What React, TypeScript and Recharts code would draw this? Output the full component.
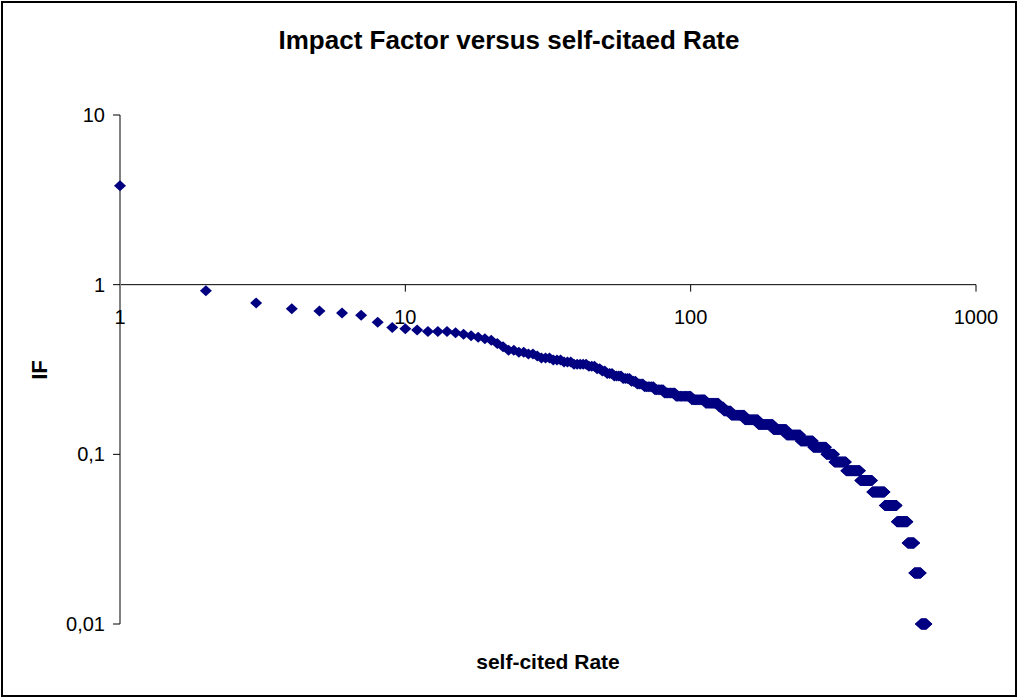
import { ScatterChart, Scatter, XAxis, YAxis, ReferenceLine, ReferenceDot } from "recharts";

// IF value of each plateau and the last rank that still has it (ranks sorted by IF)
const ifLevels = [
  3.83, 0.92, 0.78, 0.72, 0.7, 0.68, 0.66, 0.6, 0.56, 0.55, 0.54, 0.53, 0.52, 0.51, 0.5, 0.49, 0.48,
  0.47, 0.45, 0.43, 0.41, 0.4, 0.39, 0.38, 0.37, 0.36, 0.35, 0.34, 0.33, 0.32, 0.31, 0.3, 0.29, 0.28,
  0.27, 0.26, 0.25, 0.24, 0.23, 0.22, 0.21, 0.2, 0.19, 0.18, 0.17, 0.16, 0.15, 0.14, 0.13, 0.12, 0.11,
  0.1, 0.09, 0.08, 0.07, 0.06, 0.05, 0.04, 0.03, 0.02, 0.01,
];
const lastRank = [
  1, 2, 3, 4, 5, 6, 7, 8, 9, 10, 11, 14, 15, 16, 17, 18, 19,
  20, 21, 22, 24, 26, 28, 29, 32, 35, 38, 43, 46, 48, 50, 53, 57, 61,
  64, 68, 74, 80, 88, 100, 112, 125, 130, 138, 154, 172, 194, 216, 242, 268, 298,
  318, 350, 392, 432, 478, 527, 575, 607, 640, 670,
];

const xTicks = [1, 10, 100, 1000];
const xTickLabels = ["1", "10", "100", "1000"];
const yTicks = [0.01, 0.1, 1, 10];
const yTickLabels = ["0,01", "0,1", "1", "10"];

const points: { rank: number; impact: number }[] = [];
let rank = 1;
ifLevels.forEach((v, i) => {
  for (; rank <= lastRank[i]; rank++) points.push({ rank, impact: v });
});

const font = '"Liberation Sans", Arial, sans-serif';

const renderDiamond = (props: any) => {
  const { cx, cy } = props;
  return (
    <polygon
      points={`${cx},${cy - 5.5} ${cx + 6},${cy} ${cx},${cy + 5.5} ${cx - 6},${cy}`}
      fill="#000080"
    />
  );
};

// tick mark + label of the x axis, which crosses at IF = 1
const xTickShape = (text: string, withMark: boolean) => (props: any) => {
  const { cx, cy } = props;
  return (
    <g>
      {withMark && <line x1={cx} y1={cy} x2={cx} y2={cy + 7} stroke="#000" />}
      <text x={cx} y={cy + 39} textAnchor="middle" fontSize={20} fontFamily={font} fill="#000">
        {text}
      </text>
    </g>
  );
};

export default function App() {
  return (
    <div style={{ position: "absolute", left: 0, top: 0, width: 1018, height: 700, background: "#fff" }}>
      <div
        style={{
          position: "absolute",
          left: 1,
          top: 1,
          width: 1016,
          height: 696,
          border: "2px solid #000",
          boxSizing: "border-box",
        }}
      />
      <div
        style={{
          position: "absolute",
          left: 0,
          width: 1018,
          top: 27,
          textAlign: "center",
          fontFamily: font,
          fontWeight: "bold",
          fontSize: 26,
          lineHeight: "26px",
        }}
      >
        Impact Factor versus self-citaed Rate
      </div>
      <ScatterChart width={1018} height={700} margin={{ top: 115, right: 42, bottom: 76, left: 20 }}>
        <XAxis type="number" dataKey="rank" scale="log" domain={[1, 1000]} ticks={xTicks} hide />
        <YAxis
          type="number"
          dataKey="impact"
          scale="log"
          domain={[0.01, 10]}
          ticks={yTicks}
          width={100}
          axisLine={{ stroke: "#808080", strokeWidth: 2 }}
          tickLine={{ stroke: "#000" }}
          tickSize={7}
          tickMargin={8}
          tick={{ fill: "#000", fontSize: 20, fontFamily: font }}
          tickFormatter={(v: number) => yTickLabels[yTicks.indexOf(v)]}
        />
        <ReferenceLine y={1} stroke="#000" strokeWidth={1} />
        {xTicks.map((t, i) => (
          <ReferenceDot key={t} x={t} y={1} r={0} shape={xTickShape(xTickLabels[i], i > 0)} />
        ))}
        <Scatter data={points} shape={renderDiamond} isAnimationActive={false} />
      </ScatterChart>
      <div
        style={{
          position: "absolute",
          left: 120,
          width: 856,
          top: 651,
          textAlign: "center",
          fontFamily: font,
          fontWeight: "bold",
          fontSize: 21,
          lineHeight: "22px",
        }}
      >
        self-cited Rate
      </div>
      <div
        style={{
          position: "absolute",
          left: 40,
          top: 370,
          transform: "translate(-50%, -50%) rotate(-90deg)",
          fontFamily: font,
          fontWeight: "bold",
          fontSize: 22,
          lineHeight: "22px",
        }}
      >
        IF
      </div>
    </div>
  );
}
